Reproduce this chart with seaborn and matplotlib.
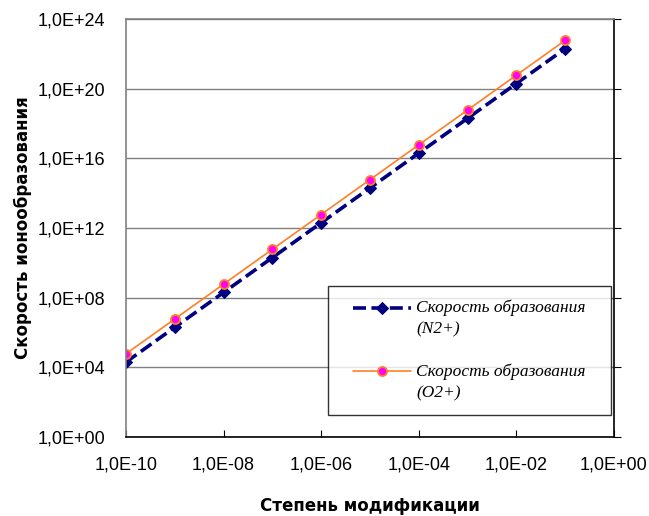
# libraries
import pandas as pd
import seaborn as sns
import matplotlib.pyplot as plt
from matplotlib.lines import Line2D
from matplotlib.legend_handler import HandlerLine2D
from matplotlib.ticker import FuncFormatter, NullLocator

# data
modification = [1e-10, 1e-9, 1e-8, 1e-7, 1e-6, 1e-5, 1e-4, 1e-3, 1e-2, 1e-1]
rate_n2 = [2e4, 2e6, 2e8, 2e10, 2e12, 2e14, 2e16, 2e18, 2e20, 2e22]
rate_o2 = [6e4, 6e6, 6e8, 6e10, 6e12, 6e14, 6e16, 6e18, 6e20, 6e22]
label_n2 = "Скорость образования\n(N2+)"
label_o2 = "Скорость образования\n(O2+)"

# axis ticks
x_ticks = [1e-10, 1e-8, 1e-6, 1e-4, 1e-2, 1e0]
y_ticks = [1e0, 1e4, 1e8, 1e12, 1e16, 1e20, 1e24]

df = pd.DataFrame({"x": modification, "n2": rate_n2, "o2": rate_o2})


# legend handle drawn next to the first line of a two-line label,
# with a little indent on the left
class FirstLineHandler(HandlerLine2D):
    def create_artists(self, legend, orig_handle, xdescent, ydescent,
                       width, height, fontsize, trans):
        arts = super().create_artists(legend, orig_handle, xdescent, ydescent,
                                      width, height, fontsize, trans)
        off = 8.0
        for a in arts:
            a.set_ydata([y + 0.63 * fontsize for y in a.get_ydata()])
            a.set_xdata([off + x * (1 - off / width) for x in a.get_xdata()])
        return arts


sns.set_style("white")
plt.rcParams["font.family"] = ["Liberation Sans", "DejaVu Sans"]
plt.rcParams["text.color"] = "black"
plt.rcParams["axes.labelcolor"] = "black"
plt.rcParams["xtick.color"] = "black"
plt.rcParams["ytick.color"] = "black"

fig = plt.figure(figsize=(6.49, 5.16), dpi=100)
ax = fig.add_axes([0.194, 0.153, 0.752, 0.81])

# N2+ series: dashed navy with diamonds
sns.lineplot(data=df, x="x", y="n2", ax=ax, color="#000080", linestyle=(0, (3.6, 1.5)),
             linewidth=2.6, marker="D", markersize=6, markeredgecolor="#000080",
             markerfacecolor="#000080", label=label_n2)

# O2+ series: thin orange with magenta dots
sns.lineplot(data=df, x="x", y="o2", ax=ax, color="#FF7F27", linewidth=1.2,
             marker="o", markersize=6.5, markeredgecolor="#FF7F27",
             markeredgewidth=1.3, markerfacecolor="#FF00FF", label=label_o2)

ax.set_xscale("log")
ax.set_yscale("log")
ax.set_xlim(x_ticks[0], x_ticks[-1])
ax.set_ylim(y_ticks[0], y_ticks[-1])

ax.set_xticks(x_ticks)
ax.set_yticks(y_ticks)
ax.xaxis.set_minor_locator(NullLocator())
ax.yaxis.set_minor_locator(NullLocator())

fmt = FuncFormatter(lambda v, pos: f"{v:.1E}".replace(".", ","))
ax.xaxis.set_major_formatter(fmt)
ax.yaxis.set_major_formatter(fmt)

ax.yaxis.grid(True, color="#808080", linewidth=1)
ax.set_axisbelow(True)

for side in ["left", "top"]:
    ax.spines[side].set_color("#808080")
ax.spines["bottom"].set_color("black")
ax.spines["right"].set_color("black")
for s in ax.spines.values():
    s.set_linewidth(1.2)

ax.tick_params(axis="x", bottom=True, direction="in", length=5,
               labelsize=13, pad=14)
ax.tick_params(axis="y", left=False, right=True, direction="out", length=5,
               labelleft=True, labelright=False, labelsize=13, pad=10)

ax.set_xlabel("Степень модификации", fontsize=12, fontweight="bold",
              family="DejaVu Sans")
ax.set_ylabel("Скорость ионообразования", fontsize=12, fontweight="bold",
              family="DejaVu Sans")
ax.xaxis.set_label_coords(0.5, -0.1435)
ax.yaxis.set_label_coords(-0.211, 0.5)
ax.yaxis.label.set_verticalalignment("center")

leg = ax.legend(loc="upper left", bbox_to_anchor=(0.414, 0.0, 0.58, 0.3612),
                mode="expand", borderaxespad=0, frameon=True, fancybox=False,
                edgecolor="black", handlelength=4.0, handletextpad=0.29,
                labelspacing=1.47, borderpad=0.8,
                handler_map={Line2D: FirstLineHandler()},
                prop={"family": "Liberation Serif", "style": "italic", "size": 12.5})
leg.get_frame().set_linewidth(1.0)
for t in leg.get_texts():
    t.set_linespacing(1.45)

plt.savefig("out.png", dpi=100)
